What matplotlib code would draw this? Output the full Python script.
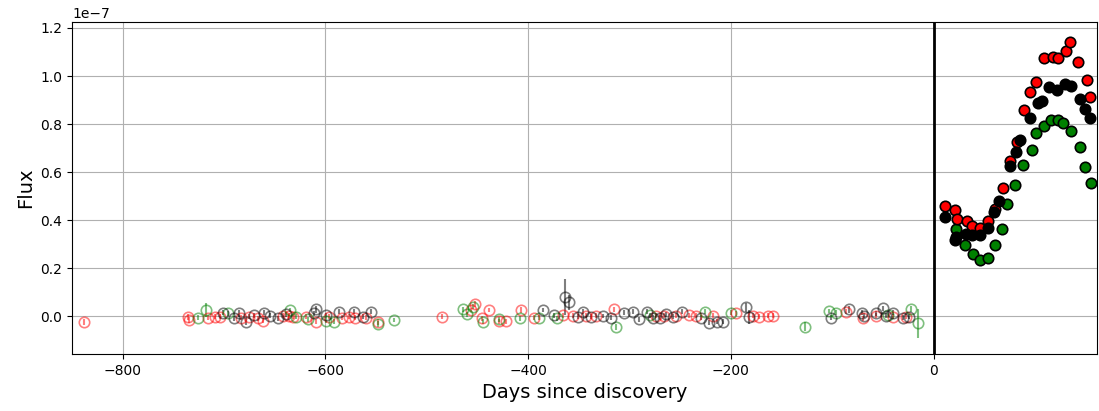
import numpy as np
import matplotlib
matplotlib.use('Agg')
import matplotlib.pyplot as plt

# flux values below are in units of 1e-7

# --- pre-discovery photometry (open circles with error bars) ---
r_pre_day = [-838, -736, -735, -716, -709, -704, -683, -675, -666, -662, -642, -636, -632, -619,
             -609, -596, -584, -577, -571, -560, -548, -485, -456, -452, -446, -439, -429, -422,
             -407, -394, -366, -356, -343, -333, -315, -274, -266, -254, -241, -234, -218, -195,
             -178, -172, -163, -158, -86, -70, -57, -40, -27]
r_pre_flux = [-0.024, -0.003, -0.016, -0.007, -0.003, -0.003, -0.007, -0.003, -0.010, -0.020, 0.001,
              0.001, -0.003, -0.003, -0.024, -0.003, -0.007, -0.003, -0.007, -0.007, -0.024, -0.003,
              0.025, 0.049, -0.010, 0.025, -0.021, -0.021, 0.025, -0.007, 0.004, 0.001, 0.001, 0.001,
              0.028, 0.001, 0.001, 0.001, 0.004, 0.001, 0.001, 0.011, 0.001, -0.003, 0.001, 0.001,
              0.018, -0.010, 0.001, -0.003, -0.003]
r_pre_err = [0.012, 0.012, 0.012, 0.010, 0.010, 0.010, 0.010, 0.010, 0.010, 0.010, 0.010, 0.010,
             0.010, 0.010, 0.010, 0.010, 0.010, 0.010, 0.010, 0.010, 0.012, 0.010, 0.010, 0.012,
             0.010, 0.010, 0.010, 0.010, 0.012, 0.010, 0.010, 0.010, 0.010, 0.010, 0.010, 0.010,
             0.010, 0.010, 0.010, 0.010, 0.010, 0.010, 0.010, 0.010, 0.010, 0.010, 0.010, 0.010,
             0.010, 0.010, 0.010]

g_pre_day = [-726, -718, -696, -635, -629, -617, -599, -592, -548, -532, -464, -460, -454, -445,
             -429, -408, -389, -372, -313, -280, -226, -200, -127, -103, -96, -45, -22, -15]
g_pre_flux = [-0.007, 0.025, 0.011, 0.025, -0.003, -0.014, -0.020, -0.024, -0.033, -0.016, 0.028,
              0.008, 0.039, -0.024, -0.014, -0.010, -0.007, -0.010, -0.044, 0.004, 0.018, 0.014,
              -0.044, 0.021, 0.014, 0.004, 0.028, -0.030]
g_pre_err = [0.010, 0.030, 0.010, 0.010, 0.010, 0.010, 0.010, 0.010, 0.012, 0.010, 0.010, 0.010,
             0.010, 0.010, 0.010, 0.010, 0.010, 0.010, 0.012, 0.010, 0.010, 0.010, 0.020, 0.010,
             0.010, 0.010, 0.012, 0.060]

k_pre_day = [-701, -690, -685, -678, -670, -661, -655, -647, -639, -611, -609, -599, -587, -572,
             -563, -555, -385, -374, -364, -360, -351, -346, -338, -326, -318, -305, -297, -291,
             -283, -277, -270, -264, -257, -248, -229, -222, -214, -208, -185, -182, -101, -83,
             -71, -69, -57, -50, -47, -40, -30, -24]
k_pre_flux = [0.014, -0.010, 0.011, -0.024, 0.004, 0.014, 0.001, -0.010, 0.007, 0.011, 0.028, 0.004,
              0.018, 0.018, -0.003, 0.018, 0.025, 0.004, 0.080, 0.057, -0.003, 0.018, -0.003, 0.000,
              -0.007, 0.014, 0.018, -0.014, 0.018, -0.007, -0.007, 0.007, -0.003, 0.018, -0.006,
              -0.028, -0.024, -0.024, 0.036, -0.003, -0.007, 0.029, 0.014, 0.001, 0.011, 0.032,
              0.001, 0.014, -0.007, -0.003]
k_pre_err = [0.010, 0.010, 0.015, 0.015, 0.010, 0.010, 0.010, 0.010, 0.010, 0.010, 0.015, 0.010,
             0.010, 0.010, 0.010, 0.010, 0.010, 0.010, 0.075, 0.030, 0.010, 0.010, 0.010, 0.010,
             0.010, 0.010, 0.010, 0.010, 0.010, 0.010, 0.010, 0.010, 0.010, 0.010, 0.010, 0.010,
             0.010, 0.010, 0.020, 0.030, 0.010, 0.015, 0.010, 0.010, 0.010, 0.010, 0.010, 0.010,
             0.010, 0.010]

# --- post-discovery light curve (filled circles) ---
g_post_day = [21.7, 31.3, 38.8, 45.4, 53.6, 60.9, 67.1, 72.3, 79.9, 88.1, 97.0, 101.3, 108.5,
              115.4, 122.6, 127.6, 135.8, 144.7, 149.3, 154.9]
g_post_flux = [0.364, 0.298, 0.260, 0.232, 0.241, 0.298, 0.361, 0.468, 0.546, 0.628, 0.690, 0.761,
               0.790, 0.816, 0.816, 0.804, 0.769, 0.704, 0.620, 0.556]

r_post_day = [11.5, 20.7, 23.0, 32.6, 38.2, 45.4, 53.6, 60.5, 68.4, 75.0, 81.9, 89.1, 95.4, 101.3,
              108.5, 117.7, 122.6, 130.5, 134.2, 142.7, 151.6, 154.6]
r_post_flux = [0.459, 0.441, 0.405, 0.395, 0.375, 0.366, 0.395, 0.447, 0.534, 0.644, 0.726, 0.859,
               0.934, 0.976, 1.075, 1.079, 1.076, 1.105, 1.141, 1.059, 0.985, 0.913]

k_post_day = [11.5, 20.7, 21.7, 32.3, 38.2, 45.4, 53.6, 59.5, 64.1, 75.3, 80.9, 84.8, 95.4, 102.9,
              106.8, 113.4, 121.6, 129.2, 135.8, 144.0, 149.3, 154.6]
k_post_flux = [0.412, 0.318, 0.329, 0.340, 0.336, 0.339, 0.366, 0.433, 0.478, 0.624, 0.685, 0.734,
               0.826, 0.889, 0.896, 0.954, 0.943, 0.966, 0.959, 0.905, 0.864, 0.824]

scale = 1e-7

fig = plt.figure(figsize=(10.99, 4.11), dpi=100)
ax = fig.add_axes([0.0655, 0.1387, 0.9325, 0.8078])

# pre-discovery: open markers, semi-transparent
for day, flux, err, c in [(r_pre_day, r_pre_flux, r_pre_err, 'r'),
                          (g_pre_day, g_pre_flux, g_pre_err, 'g'),
                          (k_pre_day, k_pre_flux, k_pre_err, 'k')]:
    ax.errorbar(day, np.array(flux) * scale, yerr=np.array(err) * scale, fmt='o', color=c,
                mfc='none', ms=7.5, mew=1.2, elinewidth=1.5, alpha=0.5)

# post-discovery: filled markers with black edges
for day, flux, c in [(g_post_day, g_post_flux, 'g'),
                     (r_post_day, r_post_flux, 'r'),
                     (k_post_day, k_post_flux, 'k')]:
    ax.plot(day, np.array(flux) * scale, 'o', color=c, mec='k', ms=7.5, mew=1.2)

ax.axvline(0, color='k', lw=2)

ax.set_xlim(-850, 161)
ax.set_ylim(-0.158e-7, 1.225e-7)
ax.set_xticks([-800, -600, -400, -200, 0])
ax.set_yticks(np.arange(0, 1.21, 0.2) * scale)
ax.grid(True)
ax.tick_params(labelsize=10)
ax.set_xlabel('Days since discovery', fontsize=14)
ax.set_ylabel('Flux', fontsize=14)

plt.savefig('out.png', dpi=100)
